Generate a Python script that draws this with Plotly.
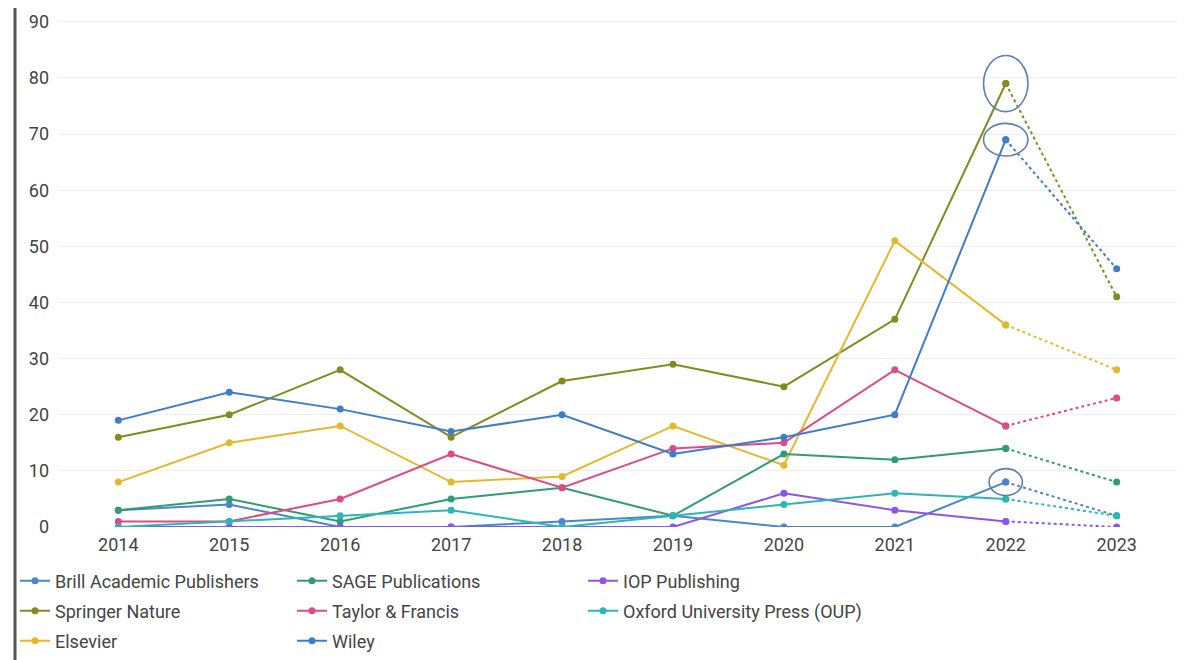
import plotly.graph_objects as go

years = ["2014", "2015", "2016", "2017", "2018", "2019", "2020", "2021", "2022", "2023"]

brill = [3, 4, 0, 0, 1, 2, 0, 0, 8, 2]
springer = [16, 20, 28, 16, 26, 29, 25, 37, 79, 41]
elsevier = [8, 15, 18, 8, 9, 18, 11, 51, 36, 28]
sage = [3, 5, 1, 5, 7, 2, 13, 12, 14, 8]
taylor = [1, 1, 5, 13, 7, 14, 15, 28, 18, 23]
wiley = [19, 24, 21, 17, 20, 13, 16, 20, 69, 46]
iop = [0, 0, 0, 0, 0, 0, 6, 3, 1, 0]
oup = [0, 1, 2, 3, 0, 2, 4, 6, 5, 2]

series = [
    ("Brill Academic Publishers", brill, "#4a86c8"),
    ("Springer Nature", springer, "#838b1f"),
    ("Elsevier", elsevier, "#e3b82c"),
    ("SAGE Publications", sage, "#2f9c72"),
    ("Taylor & Francis", taylor, "#dd4a86"),
    ("Wiley", wiley, "#3f7dcb"),
    ("IOP Publishing", iop, "#8a55ee"),
    ("Oxford University Press (OUP)", oup, "#2cb6b6"),
]

# legend placement (column, row) in the reference layout
legend_slots = {
    "Brill Academic Publishers": (0, 0),
    "Springer Nature": (0, 1),
    "Elsevier": (0, 2),
    "SAGE Publications": (1, 0),
    "Taylor & Francis": (1, 1),
    "Wiley": (1, 2),
    "IOP Publishing": (2, 0),
    "Oxford University Press (OUP)": (2, 1),
}

# page body margin offset (figure is placed at 8,8 in the page)
OFF = 8
W, H = 1182, 652
# plot area in screen pixels
SL, SR, ST, SB = 58, 1177, 19, 527
L, R, T, B = SL - OFF, W - (SR - OFF), ST - OFF, H - (SB - OFF)
pw = W - L - R
ph = H - T - B


def px_x(p):
    return (p - OFF - L) / pw


def px_y(p):
    return (H - B - (p - OFF)) / ph


fig = go.Figure()
layout_legends = {}
for i, (name, vals, col) in enumerate(series):
    lname = "legend" if i == 0 else f"legend{i+1}"
    fig.add_trace(go.Scatter(
        x=years[:-1], y=vals[:-1], mode="lines+markers", name=name,
        line=dict(color=col, width=2), marker=dict(color=col, size=7),
        legend=lname, showlegend=True,
    ))
    fig.add_trace(go.Scatter(
        x=years[-2:], y=vals[-2:], mode="lines+markers", name=name,
        line=dict(color=col, width=2, dash="dot"), marker=dict(color=col, size=7),
        legend=lname, showlegend=False,
    ))
    c, r = legend_slots[name]
    col_px = [15, 292, 583][c]
    row_px = [581, 611, 641][r]
    layout_legends[lname] = dict(
        x=px_x(col_px), y=px_y(row_px), xanchor="left", yanchor="middle",
        font=dict(family="Roboto", size=18, color="#444"),
        bgcolor="rgba(0,0,0,0)", itemwidth=30,
    )

# highlight circles around selected 2022 points
idx22 = years.index("2022")
highlights = [(springer[idx22], 0.20, 5.0), (wiley[idx22], 0.20, 2.9), (brill[idx22], 0.15, 2.4)]
shapes = []
for val, dx, dy in highlights:
    shapes.append(dict(type="circle", xref="x", yref="y",
                       x0=idx22 - dx, x1=idx22 + dx, y0=val - dy, y1=val + dy,
                       line=dict(color="#5b7fae", width=1.6)))

# frame lines on left and right
for xp in (15, 1185):
    shapes.append(dict(type="line", xref="paper", yref="paper",
                       x0=px_x(xp), x1=px_x(xp), y0=px_y(5), y1=px_y(662),
                       line=dict(color="#555555", width=3)))

fig.update_layout(
    width=W, height=H,
    margin=dict(l=L, r=R, t=T, b=B, autoexpand=False),
    paper_bgcolor="white", plot_bgcolor="white",
    font=dict(family="Roboto", size=18, color="#444"),
    xaxis=dict(type="category", showgrid=False, showline=False, zeroline=False,
               tickfont=dict(size=18, color="#444"), ticks="", automargin=False,
               ticklabelstandoff=5),
    yaxis=dict(range=[0, 90.5], tickvals=list(range(0, 91, 10)), showgrid=True,
               gridcolor="#eeeeee", gridwidth=1, zeroline=False, showline=False,
               tickfont=dict(size=18, color="#444"), ticks="", automargin=False,
               ticklabelstandoff=8, ticklabeloverflow="allow"),
    shapes=shapes,
    **layout_legends,
)

fig.write_html("out.html")
